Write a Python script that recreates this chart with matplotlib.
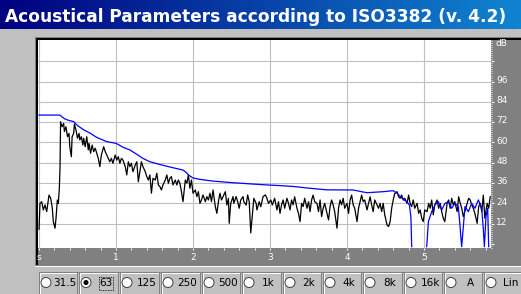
import matplotlib
matplotlib.use('Agg')
import numpy as np
import matplotlib.pyplot as plt
import matplotlib.transforms as mtransforms
from matplotlib.patches import Rectangle, Circle
from matplotlib.ticker import MultipleLocator

# ---- values (time in s, level in dB) ----
onset_t = [0.00, 0.013, 0.035, 0.056, 0.078, 0.100, 0.130, 0.152, 0.173, 0.186,
           0.208, 0.221, 0.238, 0.251, 0.264, 0.273]
onset_db = [8.7, 24.0, 25.0, 20.1, 23.1, 19.1, 28.9, 27.0, 21.1, 13.2,
            9.3, 15.2, 26.0, 24.0, 32.9, 45.0]

decay_t = [0.28, 0.30, 0.32, 0.33, 0.35, 0.37, 0.39, 0.40, 0.42, 0.43,
           0.45, 0.46, 0.48, 0.50, 0.52, 0.53, 0.55, 0.57, 0.58, 0.60,
           0.62, 0.64, 0.65, 0.67, 0.69, 0.71, 0.73, 0.75, 0.77, 0.79,
           0.81, 0.84, 0.86, 0.88, 0.90, 0.92, 0.94, 0.96, 0.99, 1.01,
           1.03, 1.05, 1.07, 1.09, 1.12, 1.14, 1.16, 1.18, 1.20, 1.22,
           1.25, 1.27, 1.29, 1.31, 1.33, 1.35, 1.38, 1.40, 1.42, 1.44,
           1.46, 1.48, 1.51, 1.53, 1.55, 1.57, 1.59, 1.61, 1.64, 1.66,
           1.68, 1.70, 1.72, 1.74, 1.77, 1.79, 1.81, 1.83, 1.85, 1.87,
           1.90, 1.92, 1.94, 1.96, 1.98, 2.00, 2.03, 2.05, 2.07, 2.09,
           2.11, 2.13, 2.16, 2.18, 2.20, 2.22, 2.24, 2.26, 2.29, 2.31,
           2.33, 2.35, 2.37, 2.39, 2.42, 2.44, 2.46, 2.47, 2.49, 2.52,
           2.53, 2.56, 2.58, 2.60, 2.62, 2.65, 2.66, 2.69, 2.71, 2.73,
           2.75, 2.78, 2.79, 2.82, 2.83, 2.86, 2.88, 2.91, 2.94, 2.96,
           2.98, 3.01, 3.03, 3.06, 3.09, 3.11, 3.13]
decay_db = [72.3, 69.3, 71.3, 66.4, 69.3, 63.4, 65.4, 57.5, 51.6, 63.4,
            65.4, 70.9, 67.4, 62.5, 65.4, 61.5, 63.4, 58.5, 62.5, 57.5,
            63.4, 55.6, 59.5, 53.6, 58.5, 54.6, 56.6, 53.6, 50.6, 45.7,
            52.6, 57.5, 54.6, 52.6, 50.6, 48.6, 50.6, 47.7, 52.6, 49.6,
            51.6, 47.7, 50.6, 49.6, 45.7, 40.8, 48.6, 45.7, 47.7, 42.7,
            46.7, 48.6, 36.8, 42.7, 48.6, 45.7, 42.7, 39.8, 37.8, 40.8,
            30.0, 38.8, 37.8, 41.8, 34.9, 33.9, 31.9, 34.9, 37.8, 40.8,
            35.9, 38.8, 39.8, 34.9, 37.8, 34.9, 37.8, 35.9, 30.9, 25.0,
            37.8, 35.9, 40.8, 32.9, 37.8, 30.0, 31.9, 28.0, 30.9, 24.0,
            26.0, 29.0, 25.0, 28.0, 26.0, 30.0, 25.0, 31.9, 22.0, 18.1,
            25.0, 30.0, 26.0, 28.0, 30.9, 23.0, 27.0, 12.2, 24.0, 28.0,
            24.0, 28.0, 25.0, 21.1, 26.0, 28.0, 25.0, 23.0, 29.0, 25.0,
            6.5, 22.0, 27.0, 24.0, 20.1, 25.0, 22.0, 28.0, 29.0, 27.0,
            24.0, 26.0, 23.0, 27.0, 20.1, 25.0, 18.1]

tail_t = [3.15, 3.17, 3.19, 3.22, 3.24, 3.26, 3.28, 3.30, 3.32, 3.35,
          3.37, 3.39, 3.41, 3.43, 3.45, 3.48, 3.50, 3.52, 3.54, 3.56,
          3.58, 3.61, 3.63, 3.65, 3.67, 3.69, 3.71, 3.74, 3.76, 3.78,
          3.80, 3.82, 3.84, 3.87, 3.89, 3.91, 3.93, 3.95, 3.97, 4.00,
          4.02, 4.04, 4.06, 4.08, 4.10, 4.13, 4.15, 4.17, 4.19, 4.21,
          4.23, 4.26, 4.28, 4.30, 4.32, 4.34, 4.36, 4.39, 4.41, 4.43,
          4.45, 4.47, 4.49, 4.52, 4.54, 4.56, 4.58, 4.60, 4.62, 4.65,
          4.67, 4.69, 4.71, 4.73, 4.75, 4.78, 4.80, 4.82, 4.84, 4.86,
          4.88, 4.91, 4.93, 4.95, 4.97, 4.99, 5.01, 5.04, 5.06, 5.08,
          5.10, 5.12, 5.14, 5.17, 5.19, 5.21, 5.23, 5.25, 5.27, 5.30,
          5.32, 5.34, 5.36, 5.38, 5.40, 5.43, 5.45, 5.47, 5.49, 5.51,
          5.53, 5.56, 5.58, 5.60, 5.62, 5.64, 5.66, 5.69, 5.71, 5.73,
          5.75, 5.77, 5.79, 5.82, 5.84, 5.86]
tail_db = [23.1, 26.0, 21.1, 27.0, 24.0, 20.1, 26.0, 23.1, 27.9, 21.1,
           18.1, 13.2, 24.0, 22.1, 27.0, 21.1, 25.0, 19.1, 26.0, 28.9,
           25.0, 24.0, 19.1, 26.0, 16.2, 21.1, 24.0, 18.1, 14.2, 22.1,
           26.0, 23.1, 19.1, 9.3, 21.1, 26.0, 23.1, 27.0, 21.1, 24.0,
           18.1, 26.0, 28.9, 23.1, 21.1, 13.2, 21.1, 25.0, 28.9, 25.0,
           26.0, 20.1, 24.0, 27.9, 23.1, 19.1, 26.0, 23.1, 21.1, 24.0,
           19.1, 24.0, 17.2, 11.2, 10.3, 13.2, 21.1, 26.0, 29.9, 30.9,
           27.9, 27.0, 28.9, 26.0, 27.0, 24.0, 28.9, 24.0, 22.1, 26.0,
           21.1, 24.0, 18.1, 20.1, 15.2, 13.2, 20.1, 19.1, 24.0, 21.1,
           26.0, 17.2, 23.1, 26.0, 21.1, 24.0, 19.1, 15.2, 13.2, 24.0,
           26.0, 21.1, 27.0, 23.1, 25.0, 19.1, 27.9, 24.0, 21.1, 16.2,
           19.1, 24.0, 27.0, 26.0, 23.1, 21.1, 18.1, 12.2, 22.1, 24.0,
           19.1, 28.9, 15.2, 24.0, 21.1, 27.9]

level_t = onset_t + decay_t + tail_t
level_db = onset_db + decay_db + tail_db

envelope_t = [0.00, 0.27, 0.33, 0.37, 0.45, 0.50, 0.58, 0.66, 0.75, 0.88,
              1.00, 1.10, 1.18, 1.27, 1.35, 1.44, 1.57, 1.70, 1.87, 1.92,
              1.94, 2.00, 2.09, 2.25, 2.52, 2.75, 2.96, 3.13, 3.30, 3.50,
              3.74, 4.08, 4.20, 4.26, 4.47, 4.60, 4.65, 4.74, 4.78, 4.81,
              4.83, 4.84, 4.85, 5.03, 5.035, 5.057, 5.100, 5.143, 5.186, 5.229,
              5.273, 5.316, 5.359, 5.403, 5.446, 5.468, 5.489, 5.511, 5.532, 5.576,
              5.619, 5.662, 5.706, 5.749, 5.771, 5.784, 5.805, 5.827, 5.840]
envelope_db = [76.2, 76.2, 74.1, 73.3, 72.3, 70.0, 67.5, 65.6, 63.0, 60.5,
               59.5, 57.0, 55.6, 53.0, 50.6, 48.6, 47.0, 45.5, 43.7, 42.0,
               40.8, 39.0, 38.2, 37.2, 36.2, 35.5, 34.9, 34.5, 34.0, 33.0,
               32.0, 31.9, 30.8, 30.3, 30.9, 31.5, 29.9, 26.0, 25.0, 23.0,
               16.0, -1.6, np.nan, np.nan, -1.6, 13.2, 19.1, 23.1, 25.0, 20.1,
               24.0, 25.0, 21.1, 24.0, 22.1, 10.3, -1.6, 10.3, 22.1, 19.1,
               24.0, 21.1, 26.0, 21.1, 8.3, -1.6, 16.2, 21.1, -1.6]

db_ticks = [0, 12, 24, 36, 48, 60, 72, 84, 96, 108]
db_labels = ['', '12', '24', '36', '48', '60', '72', '84', '96', '']
sec_ticks = [0, 1, 2, 3, 4, 5]
sec_labels = ['s', '1', '2', '3', '4', '5']
bands = ['31.5', '63', '125', '250', '500', '1k', '2k', '4k', '8k', '16k', 'A', 'Lin']
selected_band = '63'
title = 'Acoustical Parameters according to ISO3382 (v. 4.2)'

# ---- layout (pixels) ----
W, H = 521, 294
GRAY = '#C0C0C0'
DARK = '#808080'


def frac(x0, y0, x1, y1):
    return [x0 / W, 1 - y1 / H, (x1 - x0) / W, (y1 - y0) / H]


fig = plt.figure(figsize=(W / 100, H / 100), dpi=100, facecolor=GRAY)

bg = fig.add_axes([0, 0, 1, 1])
bg.set_xlim(0, W)
bg.set_ylim(H, 0)
bg.axis('off')

# title bar
grad = np.linspace(0, 1, 256)[None, :, None]
c0 = np.array([0, 0, 128]) / 255
c1 = np.array([16, 132, 208]) / 255
bg.imshow(c0 + (c1 - c0) * grad, extent=(0, W, 29, 0), aspect='auto', zorder=1)
tt = bg.text(5, 22, title, color='white', fontweight='bold', fontsize=11,
             va='baseline', ha='left', zorder=2)
fig.canvas.draw()
tt.set_fontsize(11 * 500 / tt.get_window_extent().width)

# sunken panel frame
bg.add_patch(Rectangle((35, 37), W - 35, 229, color=DARK, lw=0, zorder=1))
bg.add_patch(Rectangle((36, 38), W - 36, 227, color='black', lw=0, zorder=1))
bg.add_patch(Rectangle((38, 40), W - 38, 225, color=DARK, lw=0, zorder=1))
bg.add_patch(Rectangle((35, 266), W - 35, 1, color='white', lw=0, zorder=1))

# plot area
ax = fig.add_axes(frac(38, 40, 491, 248))
ax.set_facecolor('white')
ax.plot(level_t, level_db, color='black', lw=0.9)
ax.plot(envelope_t, envelope_db, color='#0000FF', lw=0.9)
ax.set_xlim(-0.013, 5.87)
ax.set_ylim(-2.4, 120.6)
ax.set_xticks(sec_ticks)
ax.set_yticks(db_ticks[1:])
ax.grid(True, color=GRAY, lw=0.8)
ax.set_axisbelow(True)
ax.tick_params(length=0, labelleft=False, labelbottom=False)
for s in ax.spines.values():
    s.set_visible(False)

# dB scale on the right
axr = fig.add_axes(frac(491, 40, 521, 248))
axr.patch.set_alpha(0)
axr.set_ylim(ax.get_ylim())
axr.set_xticks([])
axr.set_yticks(db_ticks)
axr.set_yticklabels([])
axr.yaxis.set_minor_locator(MultipleLocator(1.2))
axr.tick_params(axis='y', which='major', direction='in', length=2.3, width=0.7, color='white')
axr.tick_params(axis='y', which='minor', direction='in', length=0.8, width=0.7, color='white')
for s in axr.spines.values():
    s.set_visible(False)
tr = mtransforms.blended_transform_factory(axr.transAxes, axr.transData)
for v, lab in zip(db_ticks, db_labels):
    axr.text(0.17, v + 0.8, lab, transform=tr, color='white', fontsize=6.5,
             ha='left', va='center')
bg.text(496, 44, 'dB', color='white', fontsize=6.5, ha='left', va='center', zorder=3)

# time scale at the bottom
axb = fig.add_axes(frac(38, 248, 491, 265))
axb.patch.set_alpha(0)
axb.set_xlim(ax.get_xlim())
axb.set_ylim(0, 1)
axb.set_yticks([])
axb.xaxis.tick_top()
axb.set_xticks(sec_ticks)
axb.set_xticklabels([])
axb.xaxis.set_minor_locator(MultipleLocator(0.2))
axb.tick_params(axis='x', which='both', direction='in', length=1.6, width=0.7, color='white')
for s in axb.spines.values():
    s.set_visible(False)
tb = mtransforms.blended_transform_factory(axb.transData, axb.transAxes)
for v, lab in zip(sec_ticks, sec_labels):
    axb.text(v, 0.42, lab, transform=tb, color='white', fontsize=6.5,
             ha='center', va='center')

# band selector
edges = [38, 78, 119, 160, 201, 241, 282, 322, 362, 403, 443, 483, 524]
for i, band in enumerate(bands):
    x0, x1 = edges[i], edges[i + 1]
    bg.add_patch(Rectangle((x0, 271), x1 - x0, 24, facecolor=GRAY, edgecolor='none', zorder=1))
    bg.plot([x0 + 0.5, x0 + 0.5, x1 - 0.5], [H, 271.5, 271.5], color=DARK, lw=0.7, zorder=2)
    bg.plot([x0 + 1.5, x0 + 1.5, x1 - 1.5], [H, 272.5, 272.5], color='white', lw=0.7, zorder=2)
    bg.plot([x1 - 1.5, x1 - 1.5], [272, H], color=DARK, lw=0.7, zorder=2)
    cx, cy = x0 + 8, 282.5
    bg.add_patch(Circle((cx, cy), 5, facecolor='white', edgecolor='#404040', lw=0.7, zorder=3))
    tx = (x0 + 14 + x1) / 2
    bg.text(tx, cy, band, fontsize=7.5, color='black', ha='center', va='center', zorder=3)
    if band == selected_band:
        bg.add_patch(Circle((cx, cy), 1.8, color='black', zorder=4))
        bg.add_patch(Rectangle((tx - 7, 276.5), 14, 13, fill=False, edgecolor='black',
                               lw=0.6, linestyle=(0, (1, 1)), zorder=4))

fig.savefig('out.png', dpi=100, facecolor=GRAY)
